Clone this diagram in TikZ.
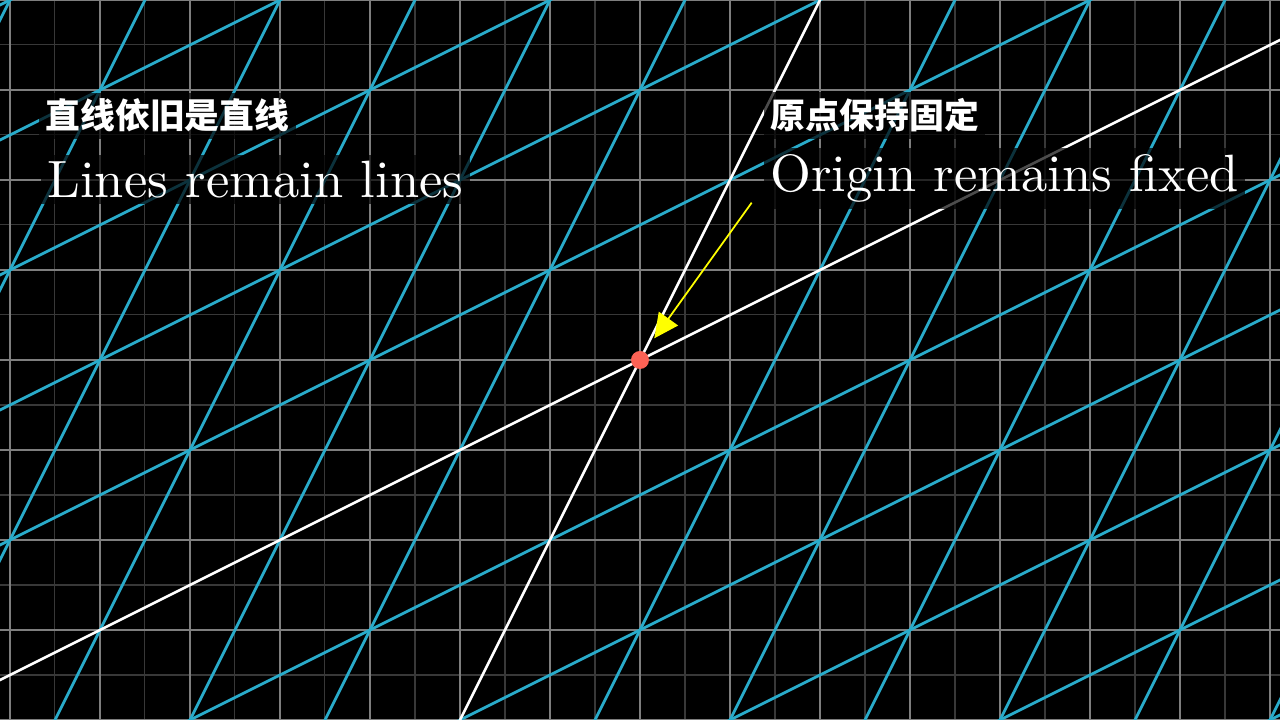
\documentclass[tikz,border=0pt]{standalone}
\usepackage{fontspec}
\newfontfamily\cjk{Noto Sans CJK SC}
\newfontfamily\cmr{lmroman10-regular.otf}
\usetikzlibrary{arrows.meta}
\definecolor{gridmajor}{HTML}{7E7E7E}
\definecolor{gridminor}{HTML}{383838}
\definecolor{tbblue}{HTML}{29ABCA}
\definecolor{tbred}{HTML}{FC6255}
\definecolor{tbyellow}{HTML}{FFFF00}
\begin{document}
\begin{tikzpicture}[x=1cm,y=1cm,
  minorline/.style={gridminor, line width=0.32pt},
  majorline/.style={gridmajor, line width=0.65pt},
  blueline/.style={tbblue, line width=0.9pt},
  whiteline/.style={white, line width=0.8pt},
  cjklabel/.style={text=white, font=\cjk\bfseries\fontsize{11}{13}\selectfont, fill=black, fill opacity=0.7, text opacity=1, inner sep=2pt, anchor=west},
  enlabel/.style={text=white, font=\cmr\fontsize{16.6}{20}\selectfont, fill=black, fill opacity=0.7, text opacity=1, inner sep=2pt, anchor=base west},
  pointer/.style={tbyellow, line width=0.55pt, -{Triangle[length=0.27cm,width=0.26cm]}},
]
\useasboundingbox (-7.1111,-4) rectangle (7.1111,4);
\fill[black] (-7.1111,-4) rectangle (7.1111,4);
\begin{scope}
\clip (-7.1111,-4) rectangle (7.1111,4);
\draw[minorline, step=0.5] (-8,-5) grid (8,5);
\draw[majorline, step=1] (-8,-5) grid (8,5);
\foreach \k in {-7,...,-1,1,2,...,7}
  \draw[blueline] ({2*\k-6},{\k-12}) -- ({2*\k+6},{\k+12});
\foreach \k in {-6,...,-1,1,2,...,6}
  \draw[blueline] ({\k-16},{2*\k-8}) -- ({\k+16},{2*\k+8});
\draw[whiteline] (-6,-12) -- (6,12);
\draw[whiteline] (-16,-8) -- (16,8);
\end{scope}
\node[cjklabel] (zhlines) at (-6.68,2.716) {直线依旧是直线};
\node[enlabel] (enlines) at (-6.66,1.808) {Lines remain lines};
\node[cjklabel] (zhorigin) at (1.37,2.716) {原点保持固定};
\node[enlabel] (enorigin) at (1.37,1.870) {Origin remains fixed};
\coordinate (arrowtail) at (1.241,1.748);
\coordinate (arrowtip) at (0.159,0.241);
\draw[pointer] (arrowtail) -- (arrowtip);
\node[circle, fill=tbred, inner sep=0pt, minimum size=0.2cm] (origin) at (0,0) {};
\end{tikzpicture}
\end{document}
